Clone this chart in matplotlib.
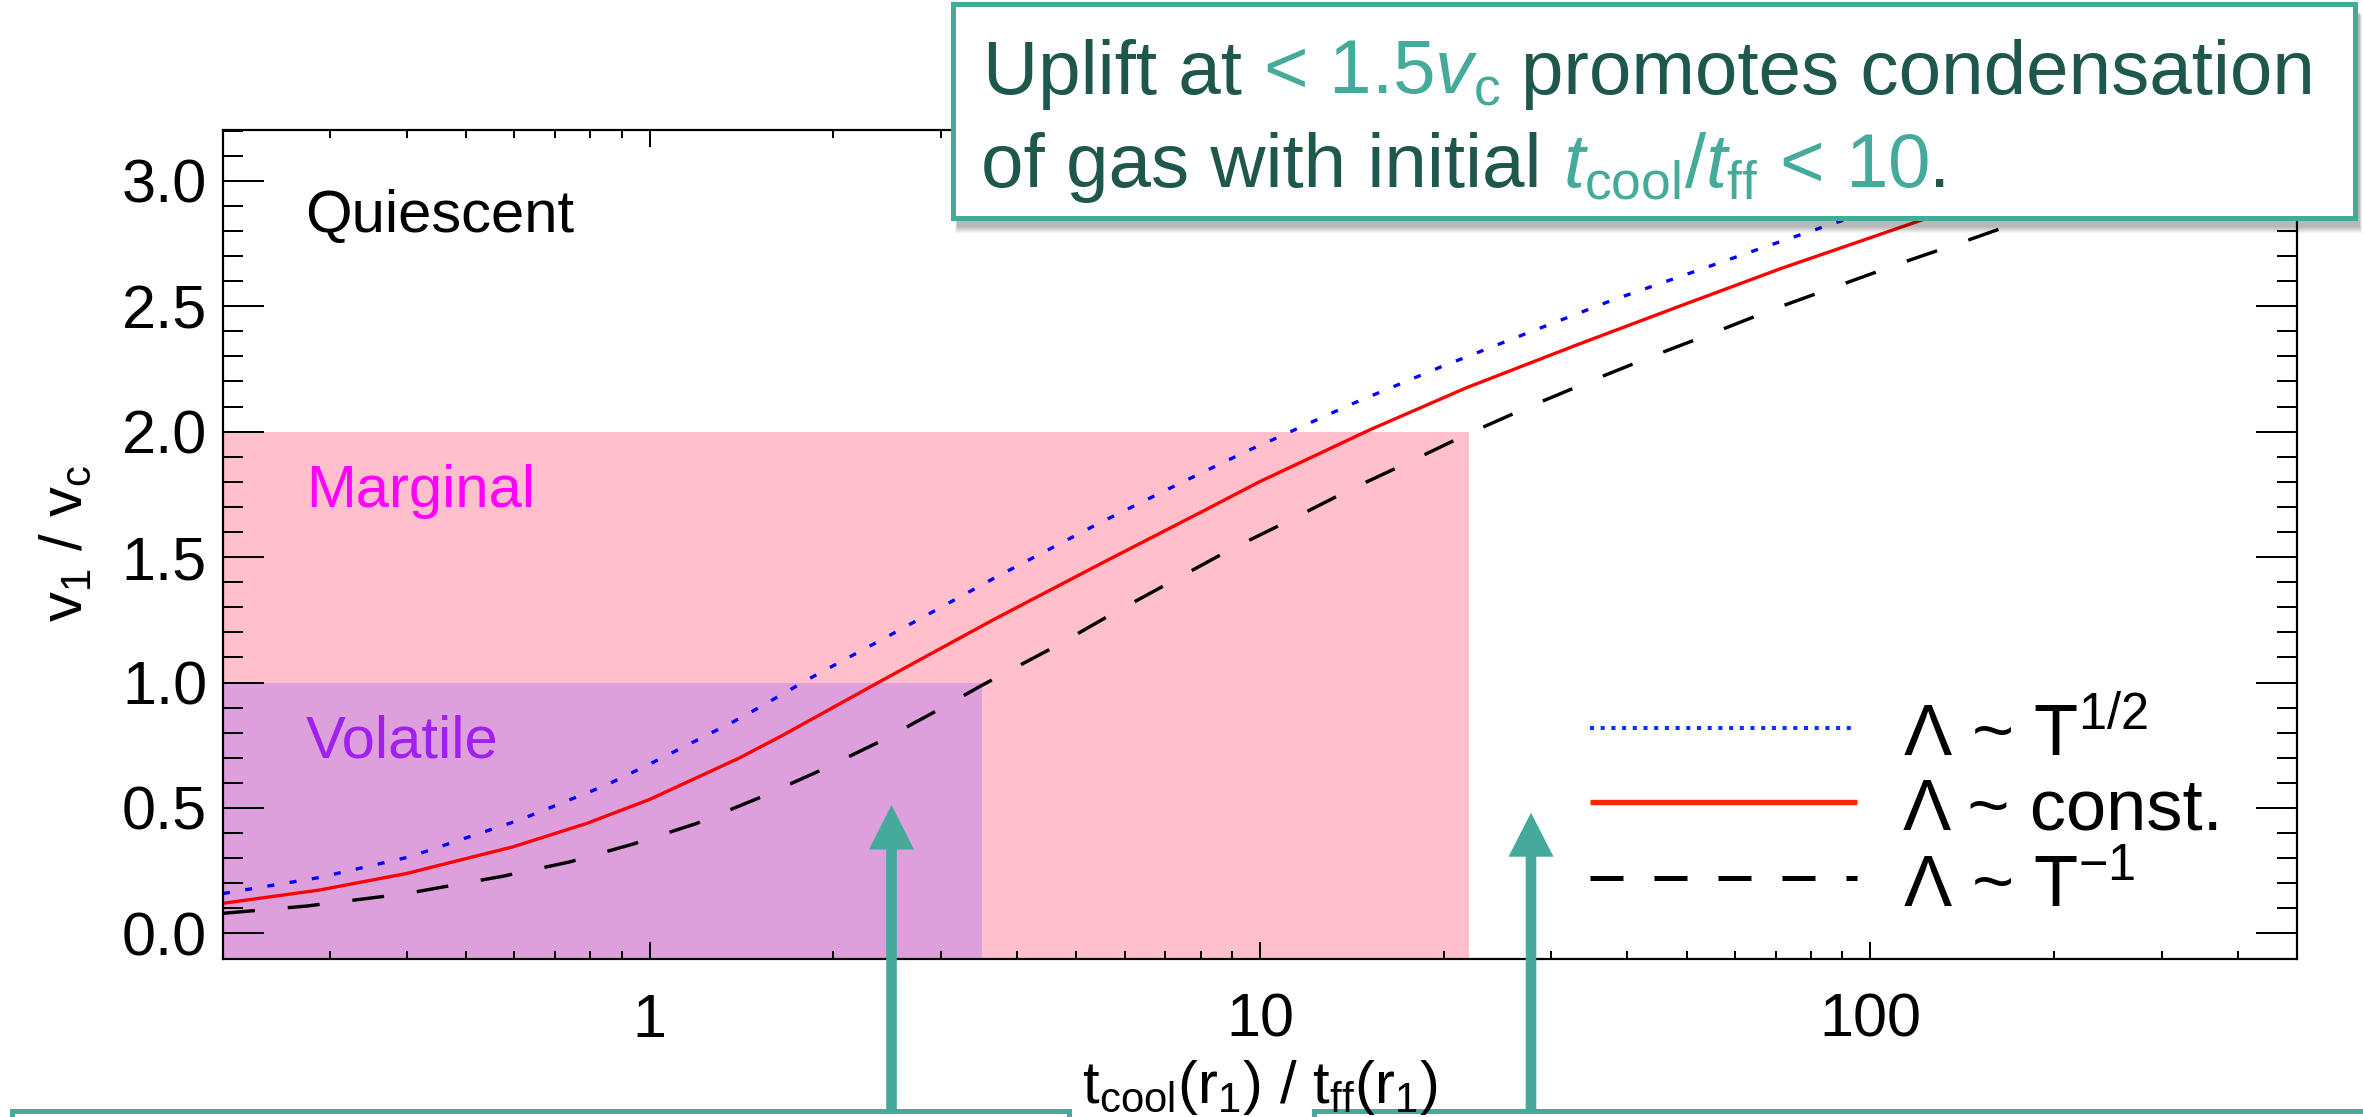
import matplotlib
matplotlib.use("Agg")
import matplotlib.pyplot as plt
from matplotlib.patches import Rectangle, Polygon
from matplotlib.lines import Line2D
from matplotlib.ticker import FixedLocator, FixedFormatter, MultipleLocator, LogLocator, NullFormatter

# ---------------------------------------------------------------- data
# t_cool(r1)/t_ff(r1) versus v1/vc for three cooling-function slopes
tratio_T12 = [0.2, 0.288, 0.404, 0.612, 0.849, 1.0, 1.37, 1.468, 1.851, 2.535, 3.70,
              5.46, 7.48, 9.55, 10.3, 14.2, 19.7, 27.3, 37.8, 52.5, 67.9, 87.1, 130]
v_T12 = [0.159, 0.223, 0.305, 0.452, 0.591, 0.675, 0.843, 0.883, 1.023, 1.202, 1.421,
         1.636, 1.800, 1.924, 1.959, 2.112, 2.256, 2.391, 2.524, 2.645, 2.740, 2.830, 2.97]

tratio_const = [0.2, 0.288, 0.40, 0.597, 0.788, 1.0, 1.405, 1.653, 2.381, 3.65, 5.6,
                8.17, 9.98, 15.1, 21.8, 33.0, 48.1, 71.0, 122, 200]
v_const = [0.120, 0.173, 0.239, 0.345, 0.438, 0.534, 0.700, 0.790, 1.003, 1.249, 1.485,
           1.690, 1.800, 2.006, 2.175, 2.345, 2.495, 2.648, 2.845, 3.02]

tratio_Tm1 = [0.2, 0.274, 0.40, 0.575, 0.740, 0.939, 1.193, 1.504, 1.898, 2.381, 2.967,
              3.51, 4.63, 5.74, 7.15, 8.91, 11.2, 14.0, 17.6, 22.0, 27.6, 35.1, 44.0,
              55.9, 69.2, 113, 143, 173, 250]
v_Tm1 = [0.080, 0.109, 0.159, 0.228, 0.285, 0.356, 0.438, 0.538, 0.648, 0.764, 0.890,
         0.990, 1.145, 1.275, 1.401, 1.528, 1.647, 1.767, 1.880, 1.993, 2.099, 2.205, 2.301,
         2.398, 2.487, 2.674, 2.759, 2.830, 2.97]

# regime boundaries
volatile_tmax, volatile_vmax = 3.5, 1.0
marginal_tmax, marginal_vmax = 22.0, 2.0

x_range = (0.2, 500)
y_range = (-0.1, 3.2)
x_ticks = [1, 10, 100]
x_tick_labels = ["1", "10", "100"]
y_ticks = [0.0, 0.5, 1.0, 1.5, 2.0, 2.5, 3.0]
y_tick_labels = ["0.0", "0.5", "1.0", "1.5", "2.0", "2.5", "3.0"]

legend_labels = ["\u039b ~ T$^{1/2}$", "\u039b ~ const.", "\u039b ~ T$^{-1}$"]
region_labels = ["Quiescent", "Marginal", "Volatile"]

# ---------------------------------------------------------------- style
W, H, DPI = 2363, 1117, 100
PT = 72.0 / DPI          # points per pixel

plt.rcParams['font.family'] = ['Liberation Sans', 'DejaVu Sans']
plt.rcParams['mathtext.fontset'] = 'custom'
plt.rcParams['mathtext.rm'] = 'Liberation Sans'
plt.rcParams['mathtext.it'] = 'Liberation Sans:italic'
plt.rcParams['mathtext.bf'] = 'Liberation Sans:bold'
plt.rcParams['lines.scale_dashes'] = False

TEAL = '#44AA99'
DARK = '#1E574C'


def fx(px):
    return px / W


def fy(py):
    return 1.0 - py / H


fig = plt.figure(figsize=(W / DPI, H / DPI), dpi=DPI)
fig.patch.set_facecolor('white')

ax = fig.add_axes([fx(223), fy(958.5), fx(2297) - fx(223), fy(130.5) - fy(958.5)])
ax.set_xscale('log')
ax.set_xlim(*x_range)
ax.set_ylim(*y_range)

# regime shading
ax.fill_between([x_range[0], marginal_tmax], y_range[0], marginal_vmax,
                color='#FFC0CB', lw=0, zorder=0.5)
ax.fill_between([x_range[0], volatile_tmax], y_range[0], volatile_vmax,
                color='#DDA0DD', lw=0, zorder=0.6)

# curves
ax.plot(tratio_T12, v_T12, color='#0000FF', lw=3.3 * PT, dashes=(7 * PT, 15.5 * PT),
        dash_capstyle='butt', zorder=2)
ax.plot(tratio_const, v_const, color='#FF0000', lw=3.3 * PT, zorder=2)
ax.plot(tratio_Tm1, v_Tm1, color='black', lw=3.4 * PT, dashes=(32 * PT, 33 * PT),
        dash_capstyle='butt', zorder=2)

# axes frame and ticks
for sp in ax.spines.values():
    sp.set_linewidth(2.2 * PT)
    sp.set_zorder(3)
ax.yaxis.set_major_locator(FixedLocator(y_ticks))
ax.yaxis.set_major_formatter(FixedFormatter(y_tick_labels))
ax.yaxis.set_minor_locator(MultipleLocator(0.1))
ax.xaxis.set_major_locator(FixedLocator(x_ticks))
ax.xaxis.set_major_formatter(FixedFormatter(x_tick_labels))
ax.xaxis.set_minor_locator(LogLocator(base=10, subs=[2, 3, 4, 5, 6, 7, 8, 9], numticks=20))
ax.xaxis.set_minor_formatter(NullFormatter())
ax.tick_params(axis='y', which='major', direction='in', length=41 * PT, width=2 * PT,
               left=True, right=True, labelsize=44, pad=11.5)
ax.tick_params(axis='y', which='minor', direction='in', length=20 * PT, width=2 * PT,
               left=True, right=True)
ax.tick_params(axis='x', which='major', direction='in', length=17 * PT, width=2 * PT,
               top=True, bottom=True, labelsize=44, pad=24.5)
ax.tick_params(axis='x', which='minor', direction='in', length=8 * PT, width=2 * PT,
               top=True, bottom=True)

# axis titles
fig.text(fx(1260), fy(1103), 't$_\\mathrm{cool}$(r$_1$) / t$_\\mathrm{ff}$(r$_1$)',
         fontsize=43, ha='center', va='baseline', zorder=8)
fig.text(fx(82), fy(543), 'v$_1$ / v$_\\mathrm{c}$', fontsize=43, rotation=90,
         ha='center', va='baseline', rotation_mode='anchor')

# regime labels
fig.text(fx(305), fy(231.7), region_labels[0], fontsize=43, color='black',
         ha='left', va='baseline')
fig.text(fx(306), fy(507), region_labels[1], fontsize=43, color='#FF00FF',
         ha='left', va='baseline')
fig.text(fx(306), fy(757.7), region_labels[2], fontsize=43, color='#A020F0',
         ha='left', va='baseline')

# legend
leg_styles = [dict(color='#0033FF', lw=4 * PT, dashes=(4 * PT, 6.7 * PT), dash_capstyle='butt'),
              dict(color='#FF2200', lw=5.3 * PT),
              dict(color='black', lw=5 * PT, dashes=(33 * PT, 31 * PT), dash_capstyle='butt')]
leg_line_y = [727.7, 801.7, 878.3]
leg_text_y = [756.7, 829.0, 906.7]
for lab, st, ly, ty in zip(legend_labels, leg_styles, leg_line_y, leg_text_y):
    fig.add_artist(Line2D([fx(1590), fx(1857)], [fy(ly), fy(ly)],
                          transform=fig.transFigure, solid_capstyle='butt', zorder=4, **st))
    fig.text(fx(1903), fy(ty), lab, fontsize=52, ha='left', va='baseline', zorder=4)


# ---------------------------------------------------------------- call-out boxes
def shadow(x0, y0, x1, y1, dx=5, dy=8, layers=7, zorder=5):
    for i in range(layers):
        g = layers - i
        fig.add_artist(Rectangle((fx(x0 + dx - g * 0.3), fy(y1 + dy + g)),
                                 fx(x1 - x0) + fx(g * 0.6), (y1 - y0 + 2 * g * 0.3) / H,
                                 transform=fig.transFigure, facecolor='black',
                                 edgecolor='none', alpha=0.045, zorder=zorder))


def box(x0, y0, x1, y1, zorder=5.5):
    fig.add_artist(Rectangle((fx(x0), fy(y1)), fx(x1 - x0), (y1 - y0) / H,
                             transform=fig.transFigure, facecolor='white',
                             edgecolor=TEAL, lw=5 * PT, zorder=zorder))


def up_arrow(x, tip, base, bottom, zorder=5.2):
    hw, sw = 22.5, 5.3
    pts = [(x, tip), (x + hw, base), (x + sw, base), (x + sw, bottom),
           (x - sw, bottom), (x - sw, base), (x - hw, base)]
    fig.add_artist(Polygon([(fx(a), fy(b)) for a, b in pts], closed=True,
                           transform=fig.transFigure, facecolor=TEAL,
                           edgecolor='none', zorder=zorder))


# upper box
shadow(952.5, 4, 2354.5, 217.5)
box(952.5, 4, 2354.5, 217.5)

# lower boxes with arrows
up_arrow(891.5, 805, 849.5, 1112)
up_arrow(1531, 812.7, 856.7, 1112)
shadow(12, 1110.5, 1069, 1200)
box(12, 1110.5, 1069, 1200)
shadow(1313.5, 1110.5, 2420, 1200)
box(1313.5, 1110.5, 2420, 1200)

renderer = fig.canvas.get_renderer()


def text_width(s, size):
    t = fig.text(0, 0, s, fontsize=size)
    w = t.get_window_extent(renderer).width
    t.remove()
    return w


def draw_runs(runs, x0, y0, size, zorder=6):
    sp = text_width('a a', size) - text_width('aa', size)
    x = x0
    for s, color in runs:
        lead = len(s) - len(s.lstrip(' '))
        trail = len(s) - len(s.rstrip(' '))
        core = s.strip(' ')
        x += lead * sp
        t = fig.text(fx(x), fy(y0), core, fontsize=size, color=color,
                     ha='left', va='baseline', zorder=zorder)
        x += t.get_window_extent(renderer).width
        x += trail * sp


draw_runs([("Uplift at ", DARK), ("< 1.5$v_\\mathrm{c}$", TEAL),
           (" promotes condensation", DARK)], 982.6, 94, 55)
draw_runs([("of gas with initial ", DARK),
           ("$t_\\mathrm{cool}/t_\\mathrm{ff}$ < 10", TEAL), (".", DARK)], 981, 187, 55)

fig.savefig('out.png', dpi=DPI, facecolor='white')
